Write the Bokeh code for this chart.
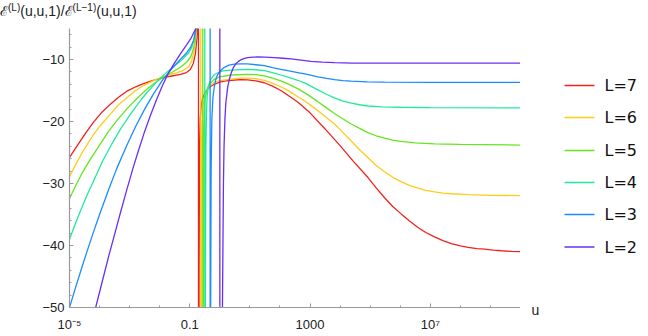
from bokeh.plotting import figure
from bokeh.models import Range1d, FixedTicker, Div, ColumnDataSource
from bokeh.layouts import column, row
from bokeh.core.properties import value
from bokeh.embed import file_html
from bokeh.resources import INLINE

# Ratio E^(L)(u,u,1) / E^(L-1)(u,u,1) against u (log scale).
# Each series is given as log10(u) positions and values; every series has a
# pole where it runs off to +inf on the left and returns from -inf on the right.
logu_L7 = [-5.0, -4.73, -4.47, -4.2, -3.94, -3.64, -3.37, -3.07, -2.8, -2.54, -2.24, -1.97, -1.64,
           -1.31, -1.11, -0.98, -0.88, -0.81, -0.76, -0.73, -0.715,
           -0.705, -0.69, -0.675, -0.65, -0.62, -0.58, -0.5, -0.41, -0.3, -0.19, 0.0, 0.2, 0.4, 0.7,
           0.92, 1.2, 1.48, 1.75, 2.03, 2.3, 2.6, 3.0, 3.5, 4.0, 4.42, 4.92, 5.2, 5.48, 5.75, 6.03,
           6.3, 6.59, 6.85, 7.14, 7.42, 7.7, 8.0, 8.26, 8.55, 8.81, 9.1, 9.37, 9.7, 10.0]
val_L7 = [-25.8, -23.8, -21.9, -20.1, -18.6, -17.2, -16.1, -15.05, -14.4, -13.9, -13.4, -13.05, -12.7,
          -12.4, -12.1, -11.6, -10.6, -9.0, -6.5, -4.0, 400,
          -400, -45, -25, -19.5, -17.5, -16.4, -15.4, -14.8, -14.35, -14.0, -13.65, -13.45, -13.35, -13.25,
          -13.3, -13.45, -13.75, -14.3, -15.0, -15.9, -16.9, -18.6, -21.2, -23.9, -26.3, -29.0, -30.7, -32.3, -33.7, -34.9,
          -36.0, -37.1, -37.9, -38.6, -39.2, -39.7, -40.05, -40.3, -40.5, -40.6, -40.75, -40.85, -40.95, -41.0]

logu_L6 = [-5.0, -4.8, -4.6, -4.4, -4.2, -4.0, -3.64, -3.37, -3.07, -2.8, -2.54, -2.24, -1.97, -1.64,
           -1.42, -1.2, -1.05, -0.95, -0.87, -0.81, -0.77, -0.64,
           -0.626, -0.615, -0.6, -0.58, -0.55, -0.5, -0.4, -0.3, -0.19, 0.0, 0.37, 0.7, 0.92, 1.2, 1.48,
           1.75, 2.03, 2.3, 2.59, 2.8, 3.03, 3.4, 3.81, 4.1, 4.4, 4.7, 4.92, 5.2, 5.48, 5.75, 6.03,
           6.3, 6.59, 6.85, 7.14, 7.42, 7.7, 8.26, 9.0, 10.0]
val_L6 = [-28.9, -27.0, -25.2, -23.6, -22.1, -20.8, -18.8, -17.3, -16.1, -15.0, -14.2, -13.5, -12.9, -12.4,
          -12.1, -11.7, -11.2, -10.4, -9.0, -7.0, -4.5, 400,
          -400, -50, -26, -20, -17.2, -15.8, -14.7, -14.1, -13.7, -13.4, -13.15, -13.0, -13.0, -13.1, -13.35,
          -13.8, -14.4, -15.1, -16.0, -16.6, -17.4, -18.8, -20.4, -21.8, -23.3, -24.8, -25.8, -27.1, -28.1, -29.0, -29.7,
          -30.3, -30.75, -31.1, -31.35, -31.55, -31.65, -31.8, -31.9, -31.95]

logu_L5 = [-5.0, -4.8, -4.6, -4.32, -4.0, -3.7, -3.4, -3.1, -2.8, -2.5, -2.2, -1.9, -1.6, -1.3,
           -1.1, -0.97, -0.88, -0.82, -0.78, -0.574,
           -0.56, -0.55, -0.535, -0.515, -0.49, -0.44, -0.35, -0.19, 0.0, 0.37, 0.92, 1.2, 1.48, 1.75,
           2.03, 2.3, 2.59, 2.87, 3.26, 3.55, 3.81, 4.1, 4.37, 4.65, 4.92, 5.2, 5.48, 5.75, 6.03, 6.5,
           7.14, 8.0, 10.0]
val_L5 = [-32.4, -30.4, -28.5, -26.2, -23.8, -21.6, -19.7, -18.0, -16.5, -15.1, -13.9, -12.9, -12.1, -11.2,
          -10.4, -9.6, -8.4, -6.8, -4.6, 400,
          -400, -50, -25, -19, -16.5, -15.0, -14.0, -13.2, -12.8, -12.5, -12.4, -12.45, -12.65, -13.0,
          -13.45, -14.0, -14.7, -15.5, -16.8, -17.8, -18.7, -19.6, -20.4, -21.1, -21.8, -22.3, -22.7, -23.0, -23.2, -23.45,
          -23.6, -23.7, -23.8]

logu_L4 = [-5.0, -4.8, -4.6, -4.4, -4.2, -3.91, -3.6, -3.3, -3.0, -2.7, -2.4, -2.1, -1.8, -1.5,
           -1.25, -1.05, -0.93, -0.85, -0.79, -0.507,
           -0.493, -0.482, -0.465, -0.445, -0.42, -0.38, -0.3, -0.2, -0.05, 0.1, 0.37, 0.92, 1.2, 1.48,
           1.75, 2.03, 2.3, 2.59, 2.87, 3.26, 3.55, 3.81, 4.1, 4.37, 4.65, 4.92, 5.4, 6.03, 7.0, 10.0]
val_L4 = [-39.0, -36.4, -34.0, -31.7, -29.6, -26.5, -23.7, -21.2, -19.0, -17.0, -15.2, -13.6, -12.2, -11.0,
          -10.0, -9.0, -8.0, -6.6, -4.6, 400,
          -400, -50, -25, -18.5, -15.8, -14.3, -13.2, -12.5, -12.1, -11.85, -11.7, -11.6, -11.65, -11.8,
          -12.1, -12.5, -12.9, -13.35, -13.9, -14.9, -15.6, -16.2, -16.7, -17.05, -17.3, -17.5, -17.65, -17.7, -17.75, -17.8]

logu_L3 = [-5.0, -4.8, -4.6, -4.4, -4.2, -4.0, -3.7, -3.43, -3.1, -2.8, -2.5, -2.2, -1.9, -1.6,
           -1.3, -1.1, -0.97, -0.87, -0.8, -0.77, -0.33,
           -0.316, -0.305, -0.29, -0.265, -0.23, -0.19, -0.14, -0.08, 0.0, 0.14, 0.3, 0.48, 0.7, 0.92,
           1.2, 1.48, 1.75, 2.03, 2.3, 2.59, 2.87, 3.26, 3.55, 3.81, 4.1, 4.37, 4.9, 5.48, 7.0, 10.0]
val_L3 = [-50.0, -46.8, -43.7, -40.7, -37.8, -35.0, -31.0, -27.6, -23.9, -20.8, -18.0, -15.5, -13.3, -11.5,
          -9.9, -8.9, -8.0, -6.9, -5.2, -4.2, 400,
          -400, -50, -28, -19.5, -16.2, -14.6, -13.3, -12.5, -11.9, -11.3, -10.9, -10.75, -10.7, -10.72,
          -10.85, -11.0, -11.3, -11.6, -11.85, -12.1, -12.35, -12.8, -13.05, -13.25, -13.4, -13.5, -13.6, -13.65, -13.7, -13.7]

logu_L2 = [-4.3, -4.13, -3.9, -3.7, -3.5, -3.3, -3.1, -2.88, -2.7, -2.5, -2.3, -2.1, -1.9, -1.7,
           -1.5, -1.3, -1.1, -0.95, -0.8, -0.75, -0.007,
           0.007, 0.07, 0.1, 0.12, 0.14, 0.17, 0.2, 0.26, 0.32, 0.37, 0.45, 0.53, 0.62, 0.7, 0.8, 0.92,
           1.1, 1.26, 1.5, 1.81, 2.1, 2.37, 2.7, 3.03, 3.4, 3.81, 4.4, 5.0, 10.0]
val_L2 = [-53.3, -50.0, -45.6, -41.8, -38.2, -34.6, -31.1, -27.4, -24.6, -21.6, -18.9, -16.4, -14.1, -12.1,
          -10.5, -9.0, -7.6, -6.5, -5.0, -4.5, 400,
          -400, -60, -42, -30, -24, -19.5, -17, -14.5, -13.1, -12.3, -11.3, -10.7, -10.3, -10.05, -9.85, -9.7,
          -9.62, -9.6, -9.62, -9.7, -9.8, -9.9, -10.1, -10.3, -10.42, -10.5, -10.57, -10.6, -10.6]

series_labels = ["L=7", "L=6", "L=5", "L=4", "L=3", "L=2"]
series_logu = [logu_L7, logu_L6, logu_L5, logu_L4, logu_L3, logu_L2]
series_vals = [val_L7, val_L6, val_L5, val_L4, val_L3, val_L2]
series_colors = ["#F0221E", "#FFCC1A", "#66E61E", "#1EEB9A", "#1A8CFF", "#6A2EF5"]

x_ticks = [1e-5, 0.1, 1e3, 1e7]
x_tick_text = ["10⁻⁵", "0.1", "1000", "10⁷"]
y_ticks = [-50, -40, -30, -20, -10]

X0, X1, Y0, Y1 = 1e-5, 1e10, -50, -5
FL, FR, FT, FB = 69, 520, 28, 307   # plot-area edges in page pixels
W, H = 648, 336
SIDE_W, PLOT_H = W - FR, H - FT

AXIS_COL = "#9a9a9a"
FONT = "Liberation Sans"
TXT_COL = "#222222"
LINE_W = 1.3

# main plot: the frame is exactly the plotted u / value range
p = figure(width=FR, height=PLOT_H, x_axis_type="log",
           x_range=Range1d(X0, X1), y_range=Range1d(Y0, Y1),
           output_backend="svg", toolbar_location=None,
           min_border_left=FL, min_border_right=0,
           min_border_top=0, min_border_bottom=H - FB)
p.grid.visible = False
p.outline_line_color = None

for lu, vals, col in zip(series_logu, series_vals, series_colors):
    us = [10.0 ** t for t in lu]
    p.line(us, vals, line_color=col, line_width=LINE_W)

xa = p.xaxis[0]
xa.ticker = FixedTicker(ticks=x_ticks, minor_ticks=[10.0 ** k for k in range(-5, 11)])
xa.major_label_overrides = {t: s for t, s in zip(x_ticks, x_tick_text)}
ya = p.yaxis[0]
ya.ticker = FixedTicker(ticks=y_ticks, minor_ticks=list(range(-50, -4, 2)))
ya.major_label_overrides = {t: "−%d" % abs(t) for t in y_ticks}
for ax in (xa, ya):
    ax.axis_line_color = AXIS_COL
    ax.axis_line_width = 1.2
    ax.major_tick_line_color = AXIS_COL
    ax.minor_tick_line_color = AXIS_COL
    ax.major_tick_in = 4
    ax.major_tick_out = 0
    ax.minor_tick_in = 2
    ax.minor_tick_out = 0
    ax.major_label_text_font = FONT
    ax.major_label_text_font_size = "13px"
    ax.major_label_text_color = TXT_COL
xa.major_label_standoff = 9
ya.major_label_standoff = 5

# side panel on the right, in page-pixel units (x from its left edge, y up from the x-axis level)
side = figure(width=SIDE_W, height=PLOT_H,
              x_range=Range1d(0, SIDE_W), y_range=Range1d(0, FB - FT),
              output_backend="svg", toolbar_location=None, y_axis_location=None,
              min_border_left=0, min_border_right=0, min_border_top=0, min_border_bottom=H - FB)
side.grid.visible = False
side.outline_line_color = None

# legend: one swatch and one label per series
legend_rows_px = [85, 117, 150, 182, 214, 246.5]
leg = ColumnDataSource(dict(
    x0=[564 - FR] * len(series_labels), x1=[594 - FR] * len(series_labels),
    xt=[604 - FR] * len(series_labels),
    y=[FB - r for r in legend_rows_px], color=series_colors, label=series_labels))
side.segment(x0="x0", y0="y", x1="x1", y1="y", line_color="color", line_width=LINE_W, source=leg)
side.text(x="xt", y="y", text="label", text_font=value("DejaVu Sans"), text_font_size="16px",
          text_baseline="middle", text_align="left", text_color="#111111", source=leg)

# name of the u axis, just right of the end of the x axis line
sa = side.xaxis[0]
sa.ticker = FixedTicker(ticks=[535 - FR], minor_ticks=[])
sa.major_label_overrides = {535 - FR: "u"}
sa.axis_line_color = None
sa.major_tick_line_color = None
sa.minor_tick_line_color = None
sa.major_tick_in = 0
sa.major_tick_out = 0
sa.major_label_standoff = -6
sa.major_label_text_font = FONT
sa.major_label_text_font_size = "14px"
sa.major_label_text_color = TXT_COL

# name of the vertical axis, above its top end
title_html = (
    '<div style="font-family:\'Liberation Sans\',sans-serif;font-size:14px;line-height:17px;'
    'padding-top:3px;color:#222222;white-space:nowrap;">'
    'ℰ<span style="font-size:10px;vertical-align:5px;line-height:0;">(L)</span>(u,u,1)/'
    'ℰ<span style="font-size:10px;vertical-align:5px;line-height:0;">(L−1)</span>(u,u,1)</div>'
)
title = Div(text=title_html, width=W, height=FT, margin=0)

layout = column(title, row(p, side, spacing=0), spacing=0)
open("out.html", "w").write(file_html(layout, INLINE))
